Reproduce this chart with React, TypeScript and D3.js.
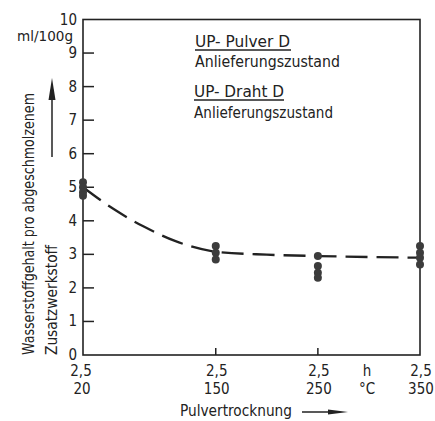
import React from "react";
import * as d3 from "d3";

const tempCategories = [20, 150, 250, 350];
const hourLabels = ["2,5", "2,5", "2,5", "2,5"];
const yTickValues = [0, 1, 2, 3, 4, 5, 6, 7, 8, 9, 10];
const pointTemps = [20, 20, 20, 20, 150, 150, 150, 250, 250, 250, 250, 350, 350, 350, 350];
const pointValues = [5.15, 5.0, 4.85, 4.75, 3.25, 3.05, 2.85, 2.95, 2.65, 2.45, 2.3, 3.25, 3.05, 2.9, 2.7];
const curveTemps = [20, 50, 80, 110, 150, 200, 250, 300, 350];
const curveValues = [5.0, 4.35, 3.82, 3.4, 3.08, 2.99, 2.95, 2.92, 2.9];
const legendTitles = ["UP- Pulver D", "UP- Draht D"];
const legendSubs = ["Anlieferungszustand", "Anlieferungszustand"];

const FONT = "'DejaVu Sans Condensed', 'DejaVu Sans', sans-serif";
const INK = "#222";

export default function App() {
  const x = d3.scaleLinear().domain([20, 350]).range([83, 420]);
  const y = d3.scaleLinear().domain([0, 10]).range([355, 19.5]);
  const line = d3
    .line<number>()
    .x((_, i) => x(curveTemps[i]))
    .y((v) => y(v))
    .curve(d3.curveMonotoneX);

  const fs = 15;
  return (
    <svg width={435} height={421} style={{ position: "absolute", left: 0, top: 0, background: "#fff" }}>
      <g fontFamily={FONT} fill={INK}>
        {/* frame */}
        <rect x={x(20)} y={y(10)} width={x(350) - x(20)} height={y(0) - y(10)} fill="none" stroke={INK} strokeWidth={1.6} />
        {/* y ticks */}
        {yTickValues.map((v) => (
          <g key={v}>
            {v > 0 && v < 10 && (
              <line x1={x(20)} x2={x(20) + 11} y1={y(v)} y2={y(v)} stroke={INK} strokeWidth={1.5} />
            )}
            <text x={77} y={y(v)} fontSize={fs} textAnchor="end" dominantBaseline="central">
              {v}
            </text>
          </g>
        ))}
        {/* x ticks */}
        {tempCategories.map((t, i) => (
          <g key={t}>
            {i > 0 && i < tempCategories.length - 1 && (
              <line x1={x(t)} x2={x(t)} y1={y(0)} y2={y(0) - 7} stroke={INK} strokeWidth={1.5} />
            )}
            <text x={x(t) + (i === 0 ? -2 : 1)} y={371} fontSize={fs} textAnchor="middle" dominantBaseline="central">
              {hourLabels[i]}
            </text>
            <text x={x(t) + (i === 0 ? -1 : 1)} y={389} fontSize={fs} textAnchor="middle" dominantBaseline="central">
              {t}
            </text>
          </g>
        ))}
        <text x={367} y={371} fontSize={fs} textAnchor="middle" dominantBaseline="central">h</text>
        <text x={367} y={389} fontSize={fs} textAnchor="middle" dominantBaseline="central">°C</text>
        {/* x title */}
        <text x={180} y={411} fontSize={fs} dominantBaseline="central" textLength={112} lengthAdjust="spacingAndGlyphs">
          Pulvertrocknung
        </text>
        <line x1={302} x2={333} y1={412} y2={412} stroke={INK} strokeWidth={1.5} />
        <polygon points="328,409.5 348,412 328,414.5" fill={INK} />
        {/* y unit */}
        <text x={17} y={41} fontSize={14} textLength={56} lengthAdjust="spacingAndGlyphs">ml/100g</text>
        {/* y titles */}
        <text
          transform="translate(29,355) rotate(-90)"
          fontSize={fs}
          dominantBaseline="central"
          textLength={262}
          lengthAdjust="spacingAndGlyphs"
        >
          Wasserstoffgehalt pro abgeschmolzenem
        </text>
        <text
          transform="translate(52,355) rotate(-90)"
          fontSize={fs}
          dominantBaseline="central"
          textLength={110}
          lengthAdjust="spacingAndGlyphs"
        >
          Zusatzwerkstoff
        </text>
        <line x1={52} x2={52} y1={157} y2={96} stroke={INK} strokeWidth={1.5} />
        <polygon points="52,78 48.5,100 55.5,100" fill={INK} />
        {/* legend */}
        <text x={195} y={47} fontSize={fs} textLength={95} lengthAdjust="spacingAndGlyphs">{legendTitles[0]}</text>
        <line x1={195} x2={291} y1={50} y2={50} stroke={INK} strokeWidth={1.3} />
        <text x={195} y={67} fontSize={fs} textLength={145} lengthAdjust="spacingAndGlyphs">{legendSubs[0]}</text>
        <text x={194} y={97} fontSize={fs} textLength={90} lengthAdjust="spacingAndGlyphs">{legendTitles[1]}</text>
        <line x1={194} x2={284} y1={100} y2={100} stroke={INK} strokeWidth={1.3} />
        <text x={194} y={118} fontSize={fs} textLength={139} lengthAdjust="spacingAndGlyphs">{legendSubs[1]}</text>
      </g>
      {/* curve */}
      <path d={line(curveValues) || ""} fill="none" stroke={INK} strokeWidth={2.3} strokeDasharray="22,9" />
      {/* points */}
      {pointValues.map((v, i) => (
        <circle key={i} cx={x(pointTemps[i])} cy={y(v)} r={4} fill="#3c3c3c" />
      ))}
    </svg>
  );
}
